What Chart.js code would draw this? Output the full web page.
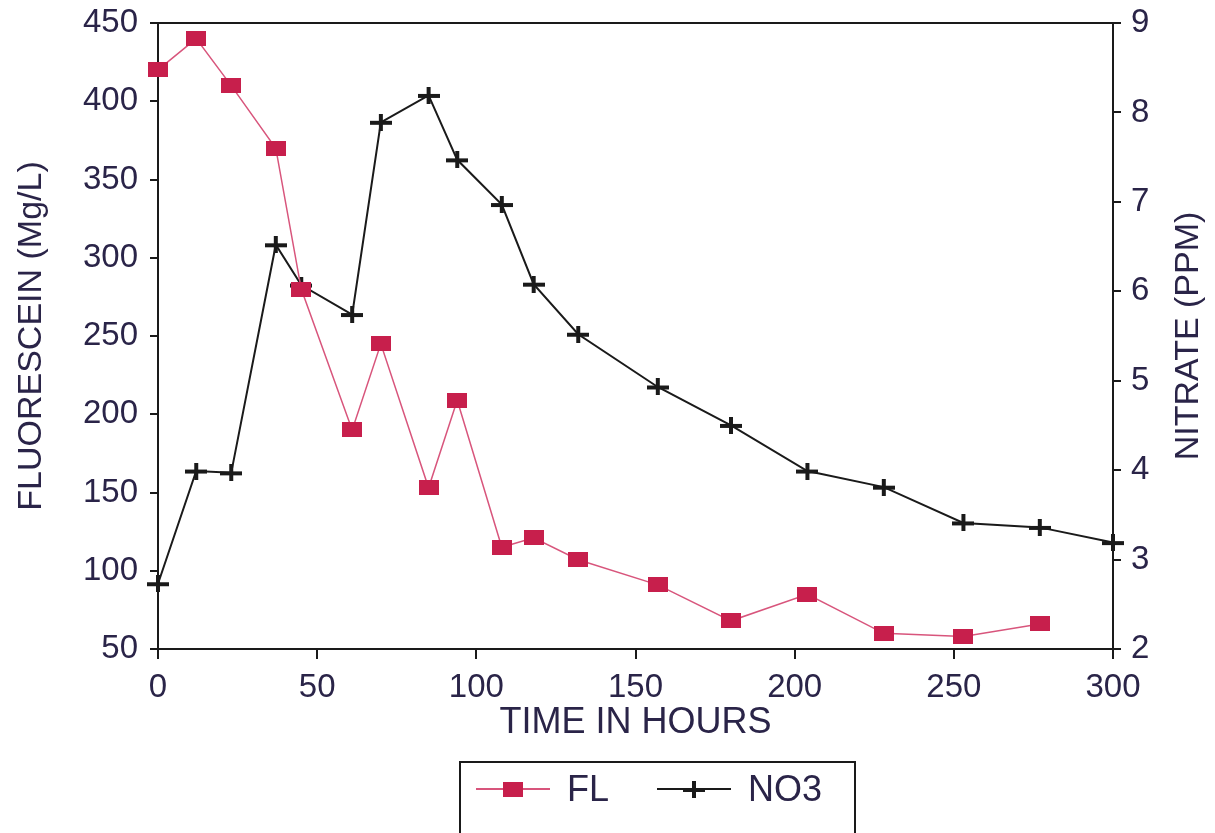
<!DOCTYPE html>
<html>
<head>
<meta charset="utf-8">
<script src="https://cdn.jsdelivr.net/npm/chart.js@4"></script>
<style>
  html, body { margin: 0; padding: 0; background: #fff; overflow: hidden; }
  #wrap { position: relative; width: 1215px; height: 833px; }
  #legend {
    position: absolute; left: 459px; top: 761px; width: 397px; height: 110px;
    border: 2px solid #1a1a1a; box-sizing: border-box;
    font-family: "Liberation Sans", Arial, sans-serif; font-size: 36px; color: #2a2448;
  }
  .lg-line { position: absolute; height: 2px; }
  .lg-mark { position: absolute; }
  .lg-text { position: absolute; top: 6px; line-height: 40px; }
</style>
</head>
<body>
<div id="wrap">
  <canvas id="chart" width="1215" height="833"></canvas>
  <div id="legend"></div>
</div>
<script>
// time in hours for each sample
const hoursFL = [0, 12, 23, 37, 45, 61, 70, 85, 94, 108, 118, 132, 157, 180, 204, 228, 253, 277];
const fluorescein = [420, 440, 410, 370, 280, 190, 245, 153, 209, 115, 121, 107, 91, 68, 85, 60, 58, 66];

const hoursNO3 = [0, 12, 23, 37, 45, 61, 70, 85, 94, 108, 118, 132, 157, 180, 204, 228, 253, 277, 300];
const nitrate = [2.73, 3.99, 3.97, 6.52, 6.07, 5.74, 7.89, 8.19, 7.47, 6.97, 6.08, 5.52, 4.93, 4.50, 3.99, 3.81, 3.41, 3.36, 3.19];

const xTicks = [0, 50, 100, 150, 200, 250, 300];
const leftTicks = [50, 100, 150, 200, 250, 300, 350, 400, 450];
const rightTicks = [2, 3, 4, 5, 6, 7, 8, 9];

const TEXT = "#2a2448";
const FL_MARK = "#c71f4c";
const FL_LINE = "#d8557c";
const NO3_COL = "#1a1a1a";
const FONT = "'Liberation Sans', Arial, sans-serif";

// marker images
function rectMarker(w, h, color) {
    const c = document.createElement("canvas");
    c.width = w; c.height = h;
    const g = c.getContext("2d");
    g.fillStyle = color;
    g.fillRect(0, 0, w, h);
    return c;
}
function crossMarker(w, h, t, color) {
    const c = document.createElement("canvas");
    c.width = w; c.height = h;
    const g = c.getContext("2d");
    g.fillStyle = color;
    g.fillRect(0, Math.round((h - t) / 2), w, t);
    g.fillRect(Math.round((w - t) / 2), 0, t, h);
    return c;
}

const toPoints = (xs, ys) => xs.map((x, i) => ({ x: x, y: ys[i] }));

// fixed axis widths, no extra label padding
function fixWidth(w) {
    return s => { s.width = w; s.paddingTop = 0; s.paddingBottom = 0; };
}

// top border of the frame + right axis title read bottom-to-top
const frameExtras = {
    id: "frameExtras",
    afterDraw(chart) {
        const { ctx, chartArea } = chart;
        ctx.save();
        ctx.strokeStyle = NO3_COL;
        ctx.lineWidth = 2;
        ctx.beginPath();
        ctx.moveTo(chartArea.left, chartArea.top);
        ctx.lineTo(chartArea.right, chartArea.top);
        ctx.stroke();

        ctx.translate(1189, (chartArea.top + chartArea.bottom) / 2);
        ctx.rotate(-Math.PI / 2);
        ctx.fillStyle = TEXT;
        ctx.font = "34px " + FONT;
        ctx.textAlign = "center";
        ctx.textBaseline = "middle";
        ctx.fillText("NITRATE (PPM)", 0, 0);
        ctx.restore();
    }
};

new Chart(document.getElementById("chart"), {
    type: "line",
    data: {
        datasets: [
            {
                label: "FL",
                data: toPoints(hoursFL, fluorescein),
                yAxisID: "yL",
                borderColor: FL_LINE,
                borderWidth: 1.5,
                pointStyle: rectMarker(20, 15, FL_MARK),
                pointRadius: 10,
                clip: false,
                tension: 0
            },
            {
                label: "NO3",
                data: toPoints(hoursNO3, nitrate),
                yAxisID: "yR",
                borderColor: NO3_COL,
                borderWidth: 2,
                pointStyle: crossMarker(22, 17, 4, NO3_COL),
                pointRadius: 10,
                clip: false,
                tension: 0
            }
        ]
    },
    options: {
        responsive: false,
        animation: false,
        layout: { padding: { left: 0, right: 0, top: 23, bottom: 84 } },
        plugins: { legend: { display: false }, tooltip: { enabled: false } },
        scales: {
            x: {
                type: "linear", min: 0, max: 300,
                afterBuildTicks: s => { s.ticks = xTicks.map(v => ({ value: v })); },
                afterFit: s => { s.height = 100; s.paddingLeft = 0; s.paddingRight = 0; },
                grid: { drawOnChartArea: false, tickLength: 10, color: NO3_COL, lineWidth: 2 },
                border: { color: NO3_COL, width: 2 },
                ticks: { color: TEXT, padding: 9, font: { family: FONT, size: 33 }, maxRotation: 0 },
                title: { display: true, text: "TIME IN HOURS", color: TEXT, padding: { bottom: 4, top: 0 },
                         font: { family: FONT, size: 36 } }
            },
            yL: {
                type: "linear", position: "left", min: 50, max: 450,
                afterBuildTicks: s => { s.ticks = leftTicks.map(v => ({ value: v })); },
                afterFit: fixWidth(158),
                grid: { drawOnChartArea: false, tickLength: 8, color: NO3_COL, lineWidth: 2 },
                border: { color: NO3_COL, width: 2 },
                ticks: { color: TEXT, padding: 12, font: { family: FONT, size: 33 } },
                title: { display: true, text: "FLUORESCEIN (Mg/L)", color: TEXT, padding: { top: 11, bottom: 0 },
                         font: { family: FONT, size: 34 } }
            },
            yR: {
                type: "linear", position: "right", min: 2, max: 9,
                afterBuildTicks: s => { s.ticks = rightTicks.map(v => ({ value: v })); },
                afterFit: fixWidth(102),
                grid: { drawOnChartArea: false, tickLength: 8, color: NO3_COL, lineWidth: 2 },
                border: { color: NO3_COL, width: 2 },
                ticks: { color: TEXT, padding: 10, font: { family: FONT, size: 33 } },
                title: { display: false }
            }
        }
    },
    plugins: [frameExtras]
});

// legend (line + marker + label)
const legend = document.getElementById("legend");
function addItem(lineLeft, lineW, color, marker, textLeft, text) {
    const line = document.createElement("div");
    line.className = "lg-line";
    line.style.left = lineLeft + "px";
    line.style.width = lineW + "px";
    line.style.top = "25px";
    line.style.background = color;
    legend.appendChild(line);
    marker.className = "lg-mark";
    marker.style.left = (lineLeft + lineW / 2 - marker.width / 2) + "px";
    marker.style.top = (26 - marker.height / 2) + "px";
    legend.appendChild(marker);
    const t = document.createElement("div");
    t.className = "lg-text";
    t.style.left = textLeft + "px";
    t.textContent = text;
    legend.appendChild(t);
}
addItem(15, 74, FL_LINE, rectMarker(20, 15, FL_MARK), 106, "FL");
addItem(196, 74, NO3_COL, crossMarker(22, 17, 4, NO3_COL), 287, "NO3");
</script>
</body>
</html>
